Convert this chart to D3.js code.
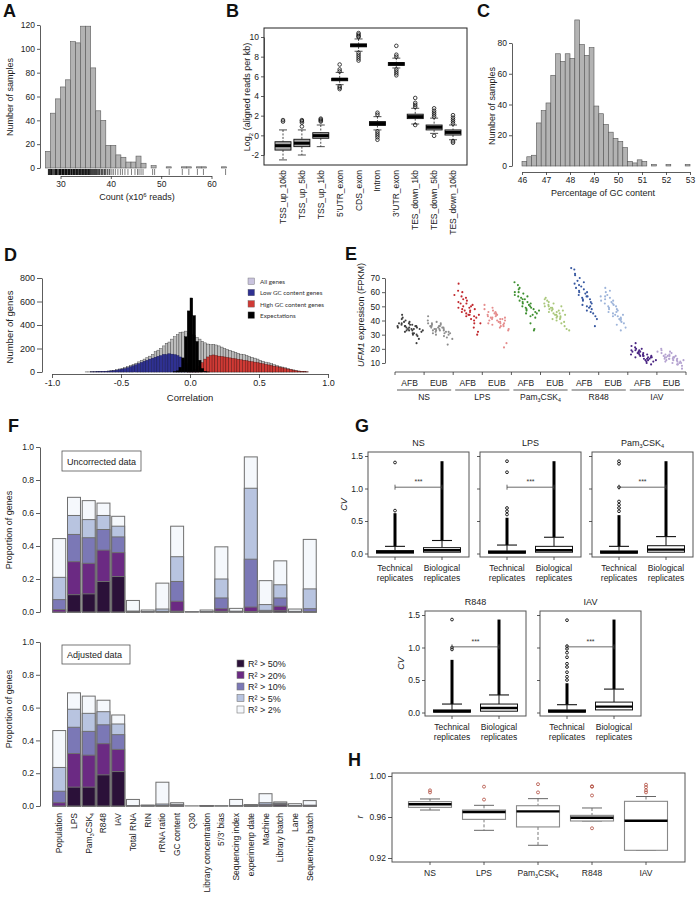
<!DOCTYPE html>
<html>
<head>
<meta charset="utf-8">
<script src="https://cdn.jsdelivr.net/npm/d3@7"></script>
<style>
  body { margin: 0; background: #fff; }
</style>
</head>
<body>
<script>
const FONT = '"Liberation Sans", Arial, Helvetica, sans-serif';

// ---- A: read counts ----
const histAStart = 27;
const histA = [14,46,58,68,74,106,105,119,119,84,48,40,19,19,11,9,5,5,10,4,0,2,0,0,1,0,0,1,1,0,1,1,0,0,0,1];
const rugA = [27.6,27.8,28.0,28.2,28.3,28.5,28.7,28.9,29.0,29.2,29.3,29.5,29.7,29.8,30.0,30.1,30.3,30.4,30.6,30.7,30.9,31.0,31.2,31.3,31.5,31.6,31.8,31.9,32.1,32.2,32.3,32.5,32.6,32.8,32.9,33.1,33.2,33.4,33.5,33.7,33.8,34.0,34.1,34.3,34.4,34.6,34.7,34.9,35.0,35.2,35.3,35.5,35.6,35.8,35.9,36.1,36.3,36.5,36.7,36.9,37.1,37.3,37.6,37.8,38.1,38.4,38.7,39.0,39.4,39.8,40.2,40.5,40.9,41.4,41.9,42.3,42.8,43.4,44.1,44.8,45.3,45.6,46.0,46.4,48.3,48.7,51.6,54.2,55.5,57.2,58.4,62.8];
const ticksAX = [30,40,50,60];
const ticksAY = [0,20,40,60,80,100,120];

// ---- B: log2 reads per kb ----
const bCats = ["TSS_up_10kb","TSS_up_5kb","TSS_up_1kb","5'UTR_exon","CDS_exon","Intron","3'UTR_exon","TES_down_1kb","TES_down_5kb","TES_down_10kb"];
const bLo  = [-2.5,-2.0,-1.15,5.15,8.55,0.55,6.85,1.15,0.2,-0.45];
const bQ1  = [-1.5,-1.15,-0.3,5.55,9.0,1.0,7.1,1.7,0.55,0.03];
const bMed = [-1.05,-0.8,-0.03,5.7,9.15,1.2,7.28,1.9,0.82,0.3];
const bQ3  = [-0.65,-0.4,0.27,5.8,9.3,1.4,7.4,2.15,1.05,0.55];
const bHi  = [0.55,0.55,1.05,6.4,9.8,1.9,7.85,2.75,1.75,1.05];
const bOut = [[1.4,1.55],[0.9,1.3,1.45,1.55],[1.4,1.5,1.6,1.7],[6.5,6.7,7.2,5.0,4.85,4.7],
  [10.0,10.1,10.25,10.4,8.4,8.2,8.0,7.8,7.6],[2.1,2.3,0.4,0.2,0.0,-0.2,-0.45],[8.0,8.2,9.1,6.7,6.5,6.3,6.1],
  [2.9,3.1,3.3,3.8,1.05],[1.9,2.1,2.3,2.5,2.75,-0.05],[1.2,1.4,1.6,1.8,2.05,-0.6,-0.75]];
const ticksBY = [-2,0,2,4,6,8,10];

// ---- C: GC content ----
const histCStart = 46.0;
const histCBin = 0.2;
const histC = [3,6,7,28,36,41,59,73,68,73,70,95,79,72,77,39,34,27,22,18,16,12,3,2,4,3,0,1,0,0,1,0,0,0,1];
const ticksCX = [46,47,48,49,50,51,52,53];
const ticksCY = [0,20,40,60,80];

// ---- D: correlation histograms ----
const dBin = 0.02;
const dAllStart = -0.76;
const dAll = [1,1,2,2,3,4,5,7,9,12,15,20,26,32,38,46,55,64,75,86,98,110,122,135,150,172,186,200,222,245,255,280,300,318,338,340,348,330,320,310,295,280,262,248,238,232,235,230,222,212,200,192,185,175,168,160,152,148,140,132,125,118,110,100,92,84,78,70,62,55,48,42,36,30,24,18,13,9,6,3,1];
const dLowStart = -0.72;
const dLow = [1,1,2,3,4,5,7,9,12,16,20,25,30,37,45,53,62,72,82,92,100,110,118,126,134,140,150,148,155,152,148,140,128,105,70,35,10,3,1];
const dHighStart = -0.02;
const dHigh = [1,3,8,20,45,80,110,128,140,145,140,135,132,128,124,120,116,112,108,104,100,96,92,88,84,80,75,70,65,60,55,50,45,40,35,30,25,20,15,10,7,4,2,1];
const dExpStart = -0.12;
const dExp = [2,10,40,120,300,520,630,480,260,100,30,6,1];
const dLegend = ['All genes','Low GC content genes','High GC content genes','Expectations'];
const dLegendColors = ['#c9c3de','#2f3192','#cf3a35','#000000'];
const ticksDX = [-1,-0.5,0,0.5,1];
const ticksDY = [0,200,400,600,800];

// ---- E: UFM1 expression ----
const eGroups = ['NS','LPS','Pam3CSK4','R848','IAV'];
const eSubs = ['AFB','EUB'];
const eNS_AFB = [38,42,36,44,35,39,37,33,41,36,38,34,40,35,37,32,39,36,34,38,31,35,37,33,36,30,34,29,33,35,31,27,36,32,30,34,24,33];
const eNS_EUB = [36,40,33,38,35,43,34,37,31,39,36,33,38,35,32,37,34,36,30,35,33,38,31,34,29,36,32,35,30,33,28,34,31,23,32,27];
const eLPS_AFB = [66,58,52,61,55,49,57,53,47,60,50,54,46,52,48,44,56,50,45,49,43,51,47,41,48,44,38,46,42,35,44,40,30,43,38,32];
const eLPS_EUB = [48,44,51,42,46,40,47,43,49,38,45,41,44,37,46,42,39,44,40,36,43,38,45,41,35,42,39,37,41,24,38,40,34,36,33,21];
const ePam_AFB = [67,63,58,65,60,56,62,54,59,57,52,60,55,50,57,53,49,55,51,47,53,49,45,52,48,44,50,46,43,48,38,45,34,42,47,33];
const ePam_EUB = [54,50,56,48,52,46,55,49,51,45,53,47,50,44,48,52,43,49,46,41,47,44,50,42,45,40,47,43,38,44,41,36,42,34,39,33];
const eR848_AFB = [76,77,68,72,63,70,66,60,73,64,58,67,61,56,65,59,54,62,57,51,60,55,49,57,52,47,55,50,45,53,48,43,50,36,46,41];
const eR848_EUB = [60,57,63,54,58,52,61,55,50,57,53,48,56,51,46,54,49,44,52,47,43,50,45,41,48,43,39,46,41,37,44,40,35,42,38,33];
const eIAV_AFB = [22,18,20,16,24,19,17,21,15,19,18,14,20,16,18,13,17,15,19,12,16,14,17,11,15,13,16,12,14,10,15,13,11,14,12,9];
const eIAV_EUB = [18,15,20,14,17,13,19,15,16,12,18,14,15,11,17,13,14,16,10,13,15,12,14,9,13,11,14,10,12,8,13,11,9,12,10,6];
const eColors = [['#3d3d3d','#8c8c8c'],['#c1272d','#e58d8d'],['#3d8f2f','#a9c77a'],['#3657a0','#9db4da'],['#4a2583','#b4a2d0']];
const ticksEY = [10,20,30,40,50,60,70];

// ---- F: variance explained ----
const fCats = ['Population','LPS','Pam3CSK4','R848','IAV','Total RNA','RIN','rRNA ratio','GC content','Q30','Library concentration',"5'/3' bias",'Sequencing index','experimenp date','Machine','Library batch','Lane','Sequencing batch'];
const fLegend = ['R² > 50%','R² > 20%','R² > 10%','R² > 5%','R² > 2%'];
const fColors = ['#2b1139','#6b2a83','#7b78b6','#b8c4e0','#f5f8fc'];
const u50 = [0,0.105,0.11,0.185,0.215,0.003,0,0,0.005,0,0,0.005,0,0.003,0,0.008,0,0];
const u20 = [0.015,0.305,0.295,0.375,0.36,0.003,0,0,0.065,0,0,0.02,0,0.03,0.003,0.035,0,0.003];
const u10 = [0.075,0.47,0.45,0.50,0.455,0.004,0.001,0.004,0.185,0,0.001,0.085,0.002,0.32,0.01,0.085,0.002,0.02];
const u5  = [0.21,0.585,0.56,0.585,0.52,0.005,0.003,0.018,0.335,0.001,0.003,0.2,0.005,0.75,0.045,0.165,0.004,0.14];
const u2  = [0.445,0.695,0.675,0.66,0.58,0.07,0.012,0.175,0.52,0.002,0.012,0.395,0.022,0.94,0.19,0.31,0.018,0.44];
const a50 = [0,0.115,0.115,0.19,0.21,0,0,0,0,0,0.002,0,0,0.004,0,0.008,0,0.001];
const a20 = [0.02,0.32,0.31,0.38,0.345,0,0,0,0.002,0,0.002,0,0,0.005,0.002,0.01,0,0.002];
const a10 = [0.09,0.48,0.455,0.495,0.435,0.001,0.001,0.004,0.005,0,0.002,0,0.001,0.006,0.01,0.014,0.001,0.003];
const a5  = [0.235,0.59,0.565,0.575,0.50,0.003,0.003,0.012,0.01,0,0.002,0.001,0.003,0.006,0.02,0.018,0.003,0.005];
const a2  = [0.46,0.69,0.67,0.645,0.555,0.04,0.006,0.145,0.02,0.001,0.002,0.001,0.04,0.007,0.075,0.025,0.014,0.033];
const ticksFY = [0,0.2,0.4,0.6,0.8,1.0];

// ---- G: CV boxplots [lo, q1, med, q3, hi] ----
const gNames = ['NS','LPS','Pam3CSK4','R848','IAV'];
const gTech = [[0,0.005,0.025,0.045,0.11],[0,0.005,0.02,0.04,0.13],[0,0.005,0.02,0.04,0.11],[0,0.005,0.02,0.04,0.13],[0,0.005,0.02,0.04,0.12]];
const gBio  = [[0,0.02,0.05,0.09,0.2],[0,0.02,0.05,0.11,0.25],[0,0.02,0.06,0.12,0.26],[0,0.02,0.07,0.13,0.27],[0,0.04,0.09,0.16,0.36]];
const gTechDenseTop = [0.62,0.55,0.59,0.81,0.45];
const gBioDenseTop = [1.42,1.42,1.42,1.43,1.43];
const gTechOut = [[0.66,1.4],[0.6,0.65,0.7,1.25,1.42],[0.65,0.7,0.75,0.8,1.02,1.38,1.42],[0.97,1.0,1.43],[0.5,0.55,0.62,0.7,0.75,0.85,0.92,0.98,1.02,1.42]];
const gBracket = [1.02,1.02,1.02,1.01,1.01];
const ticksGY = [0,0.5,1.0,1.5];

// ---- H: correlation boxplots [lo, q1, med, q3, hi] ----
const hNames = ['NS','LPS','Pam3CSK4','R848','IAV'];
const hStats = [[0.9668,0.9694,0.9724,0.975,0.9776],[0.947,0.9577,0.9649,0.9668,0.9714],[0.9324,0.9503,0.9655,0.971,0.9779],[0.9561,0.9561,0.9593,0.9616,0.9688],[0.9275,0.9275,0.9564,0.9753,0.98]];
const hOut = [[0.984,0.986],[0.977,0.9896],[0.984,0.992],[0.949,0.981,0.9895,0.99],[0.984,0.986,0.989,0.9915]];
const ticksHY = [0.92,0.96,1.00];


const svg = d3.select('body').append('svg')
  .attr('width', 696).attr('height', 901)
  .attr('font-family', FONT);
svg.append('rect').attr('width', 696).attr('height', 901).attr('fill', '#fff');

function styleAxis(g, fs) {
  g.attr('font-family', FONT).attr('font-size', fs || 8.5);
  g.select('.domain').attr('stroke', '#333').attr('stroke-width', 0.8);
  g.selectAll('.tick line').attr('stroke', '#333').attr('stroke-width', 0.8);
  g.selectAll('.tick text').attr('fill', '#222');
  return g;
}
function leftAxis(scale, x, ticks, fmt, size, fs) {
  const g = svg.append('g').attr('transform', `translate(${x},0)`)
    .call(d3.axisLeft(scale).tickValues(ticks).tickFormat(fmt || (d => d))
      .tickSize(size || 3).tickSizeOuter(0).tickPadding(2));
  return styleAxis(g, fs);
}
function bottomAxis(scale, y, ticks, fmt, size, fs) {
  const g = svg.append('g').attr('transform', `translate(0,${y})`)
    .call(d3.axisBottom(scale).tickValues(ticks).tickFormat(fmt || (d => d))
      .tickSize(size || 3).tickSizeOuter(0).tickPadding(2));
  return styleAxis(g, fs);
}
function panelLabel(t, x, y) {
  svg.append('text').attr('x', x).attr('y', y).attr('font-size', 18)
    .attr('font-weight', 'bold').attr('fill', '#111').text(t);
}
function vText(x, y, txt, fs) {
  return svg.append('text').attr('transform', `translate(${x},${y}) rotate(-90)`)
    .attr('text-anchor', 'middle').attr('font-size', fs || 9).attr('fill', '#222').text(txt);
}
function pamText(sel, fs) {
  sel.append('tspan').text('Pam');
  sel.append('tspan').attr('font-size', fs * 0.62).attr('dy', fs * 0.25).text('3');
  sel.append('tspan').attr('dy', -fs * 0.25).text('CSK');
  sel.append('tspan').attr('font-size', fs * 0.62).attr('dy', fs * 0.25).text('4');
}

// ================= A =================
panelLabel('A', 3, 17);
const xA = d3.scaleLinear().domain([30, 60]).range([60.5, 211.5]);
const yA = d3.scaleLinear().domain([0, 120]).range([168, 25]);
svg.append('g').selectAll('rect').data(histA).join('rect')
  .attr('x', (d, i) => xA(histAStart + i))
  .attr('y', d => yA(d))
  .attr('width', (d, i) => xA(histAStart + i + 1) - xA(histAStart + i))
  .attr('height', d => yA(0) - yA(d))
  .attr('fill', '#b3b3b3').attr('stroke', '#5a5a5a').attr('stroke-width', 0.6);
svg.append('g').selectAll('line').data(rugA).join('line')
  .attr('x1', d => xA(d)).attr('x2', d => xA(d))
  .attr('y1', 169).attr('y2', 175)
  .attr('stroke', '#000').attr('stroke-opacity', d => d < 40 ? 0.9 : 0.5).attr('stroke-width', 1);
bottomAxis(xA, 176, ticksAX);
leftAxis(yA, 40, ticksAY);
vText(13, 97, 'Number of samples');
{
  const t = svg.append('text').attr('x', 137).attr('y', 200).attr('text-anchor', 'middle')
    .attr('font-size', 9).attr('fill', '#222');
  t.append('tspan').text('Count (x10');
  t.append('tspan').attr('font-size', 6).attr('dy', -3.5).text('6');
  t.append('tspan').attr('dy', 3.5).text(' reads)');
}

// ================= B =================
panelLabel('B', 226, 17);
const xB = d3.scalePoint().domain(bCats).range([283, 453]);
const yB = d3.scaleLinear().domain([-2, 10]).range([155, 37]);
svg.append('rect').attr('x', 264).attr('y', 28).attr('width', 203).attr('height', 137)
  .attr('fill', 'none').attr('stroke', '#222').attr('stroke-width', 1);
const bw = 16;
bCats.forEach((c, i) => {
  const cx = xB(c);
  const g = svg.append('g');
  g.append('line').attr('x1', cx).attr('x2', cx).attr('y1', yB(bHi[i])).attr('y2', yB(bQ3[i]))
    .attr('stroke', '#222').attr('stroke-dasharray', '2,1.5').attr('stroke-width', 0.8);
  g.append('line').attr('x1', cx).attr('x2', cx).attr('y1', yB(bQ1[i])).attr('y2', yB(bLo[i]))
    .attr('stroke', '#222').attr('stroke-dasharray', '2,1.5').attr('stroke-width', 0.8);
  [bHi[i], bLo[i]].forEach(v => g.append('line')
    .attr('x1', cx - bw / 4).attr('x2', cx + bw / 4).attr('y1', yB(v)).attr('y2', yB(v))
    .attr('stroke', '#222').attr('stroke-width', 0.8));
  g.append('rect').attr('x', cx - bw / 2).attr('y', yB(bQ3[i])).attr('width', bw)
    .attr('height', yB(bQ1[i]) - yB(bQ3[i]))
    .attr('fill', '#a9a9a9').attr('stroke', '#111').attr('stroke-width', 0.9);
  g.append('line').attr('x1', cx - bw / 2).attr('x2', cx + bw / 2)
    .attr('y1', yB(bMed[i])).attr('y2', yB(bMed[i])).attr('stroke', '#000').attr('stroke-width', 3);
  g.selectAll('circle').data(bOut[i]).join('circle')
    .attr('cx', cx).attr('cy', d => yB(d)).attr('r', 1.8)
    .attr('fill', 'none').attr('stroke', '#111').attr('stroke-width', 0.8);
  svg.append('text').attr('transform', `translate(${cx + 3},170) rotate(-90)`)
    .attr('text-anchor', 'end').attr('font-size', 8.5).attr('fill', '#222').text(c);
});
leftAxis(yB, 264, ticksBY);
{
  const t = svg.append('text').attr('transform', 'translate(250,97) rotate(-90)')
    .attr('text-anchor', 'middle').attr('font-size', 9).attr('fill', '#222');
  t.append('tspan').text('Log');
  t.append('tspan').attr('font-size', 6).attr('dy', 2.5).text('2');
  t.append('tspan').attr('dy', -2.5).text(' (aligned reads per kb)');
}

// ================= C =================
panelLabel('C', 477, 17);
const xC = d3.scaleLinear().domain([46, 53]).range([522, 690]);
const yC = d3.scaleLinear().domain([0, 80]).range([166, 43]);
svg.append('g').selectAll('rect').data(histC).join('rect')
  .attr('x', (d, i) => xC(histCStart + i * histCBin))
  .attr('y', d => yC(d))
  .attr('width', xC(histCStart + histCBin) - xC(histCStart))
  .attr('height', d => yC(0) - yC(d))
  .attr('fill', '#b3b3b3').attr('stroke', '#555').attr('stroke-width', 0.6);
bottomAxis(xC, 172, ticksCX);
leftAxis(yC, 512, ticksCY);
vText(495, 106, 'Number of samples');
svg.append('text').attr('x', 603).attr('y', 196).attr('text-anchor', 'middle')
  .attr('font-size', 9).attr('fill', '#222').text('Percentage of GC content');

// ================= D =================
panelLabel('D', 4, 261);
const xD = d3.scaleLinear().domain([-1, 1]).range([52, 328]);
const yD = d3.scaleLinear().domain([0, 800]).range([372, 278]);
function dBars(vals, start, fill, stroke) {
  svg.append('g').selectAll('rect').data(vals).join('rect')
    .attr('x', (d, i) => xD(start + i * dBin))
    .attr('y', d => yD(d))
    .attr('width', xD(dBin) - xD(0))
    .attr('height', d => yD(0) - yD(d))
    .attr('fill', fill).attr('stroke', stroke).attr('stroke-width', 0.4);
}
dBars(dAll, dAllStart, '#bdbdbd', '#3a3a3a');
dBars(dLow, dLowStart, '#2f3192', '#1c1c55');
dBars(dHigh, dHighStart, '#cf3a35', '#5a1512');
dBars(dExp, dExpStart, '#000', '#000');
bottomAxis(xD, 374, ticksDX, d => d.toFixed(1), 4, 9);
leftAxis(yD, 42, ticksDY, d => d, 5, 9);
vText(13, 327, 'Number of genes', 9.5);
svg.append('text').attr('x', 190).attr('y', 401).attr('text-anchor', 'middle')
  .attr('font-size', 9.5).attr('fill', '#222').text('Correlation');
dLegend.forEach((l, i) => {
  svg.append('rect').attr('x', 248).attr('y', 278 + i * 11.3).attr('width', 6.5).attr('height', 6.5)
    .attr('fill', dLegendColors[i]).attr('stroke', '#666').attr('stroke-width', 0.4);
  svg.append('text').attr('x', 260).attr('y', 284 + i * 11.3).attr('font-size', 6.3)
    .attr('font-family', 'Lato, "Open Sans", sans-serif').attr('fill', '#333').text(l);
});

// ================= E =================
panelLabel('E', 345, 260);
const yE = d3.scaleLinear().domain([10, 70]).range([363, 278]);
const xEg = d3.scaleBand().domain(eGroups).range([395, 686]);
const xEs = d3.scaleBand().domain(eSubs).range([0, xEg.bandwidth()]);
const eSeries = [[eNS_AFB, eNS_EUB], [eLPS_AFB, eLPS_EUB], [ePam_AFB, ePam_EUB], [eR848_AFB, eR848_EUB], [eIAV_AFB, eIAV_EUB]];
// small horizontal spread so the strips read as clouds
const eSpread = [0.0, 3.1, -2.6, 1.4, -3.4, 2.2, -0.9, 3.6, -1.8, 0.7, -3.0, 2.7, -0.3];
eGroups.forEach((grp, gi) => {
  eSubs.forEach((s, si) => {
    const vals = eSeries[gi][si];
    const x0 = xEg(grp) + xEs(s) + 4;
    const w = xEs.bandwidth() - 8;
    svg.append('g').selectAll('circle').data(vals).join('circle')
      .attr('cx', (d, i) => x0 + w * i / (vals.length - 1) + eSpread[(i + gi * 3 + si * 5) % eSpread.length])
      .attr('cy', d => yE(d)).attr('r', 1.05)
      .attr('fill', eColors[gi][si]);
  });
});
leftAxis(yE, 385, ticksEY);
{
  const t = svg.append('text').attr('transform', 'translate(364,315) rotate(-90)')
    .attr('text-anchor', 'middle').attr('font-size', 9).attr('fill', '#222');
  t.append('tspan').attr('font-style', 'italic').text('UFM1');
  t.append('tspan').text(' expresison (FPKM)');
}
{
  const g = svg.append('g');
  g.append('line').attr('x1', 395).attr('x2', 686).attr('y1', 372).attr('y2', 372)
    .attr('stroke', '#333').attr('stroke-width', 0.8);
  const bounds = [];
  eGroups.forEach(grp => eSubs.forEach(s => bounds.push(xEg(grp) + xEs(s))));
  bounds.push(686);
  g.selectAll('line.tk').data(bounds).join('line').attr('class', 'tk')
    .attr('x1', d => d).attr('x2', d => d).attr('y1', 372).attr('y2', 375)
    .attr('stroke', '#333').attr('stroke-width', 0.8);
  eGroups.forEach(grp => {
    eSubs.forEach(s => {
      g.append('text').attr('x', xEg(grp) + xEs(s) + xEs.bandwidth() / 2).attr('y', 386)
        .attr('text-anchor', 'middle').attr('font-size', 8.5).attr('fill', '#222').text(s);
    });
    g.append('line').attr('x1', xEg(grp) + 2).attr('x2', xEg(grp) + xEg.bandwidth() - 2)
      .attr('y1', 390).attr('y2', 390).attr('stroke', '#333').attr('stroke-width', 0.8);
    const t = g.append('text').attr('x', xEg(grp) + xEg.bandwidth() / 2).attr('y', 400)
      .attr('text-anchor', 'middle').attr('font-size', 8.5).attr('fill', '#222');
    if (grp === 'Pam3CSK4') pamText(t, 8.5); else t.text(grp);
  });
}

// ================= F =================
panelLabel('F', 8, 432);
const xF = d3.scaleBand().domain(fCats).range([51, 318]).padding(0.12);
const yF1 = d3.scaleLinear().domain([0, 1]).range([612, 447]);
const yF2 = d3.scaleLinear().domain([0, 1]).range([806, 642]);
function fStack(yS, layers) {
  // layers ordered R2>2% (outer) to R2>50% (inner)
  layers.forEach((vals, li) => {
    svg.append('g').selectAll('rect').data(vals).join('rect')
      .attr('x', (d, i) => xF(fCats[i]))
      .attr('width', xF.bandwidth())
      .attr('y', d => yS(d))
      .attr('height', d => yS(0) - yS(d))
      .attr('fill', fColors[4 - li]).attr('stroke', '#6f6f6f').attr('stroke-width', 1);
  });
}
fStack(yF1, [u2, u5, u10, u20, u50]);
fStack(yF2, [a2, a5, a10, a20, a50]);
leftAxis(yF1, 40, ticksFY, d => d.toFixed(1), 4);
leftAxis(yF2, 40, ticksFY, d => d.toFixed(1), 4);
vText(12, 530, 'Proportion of genes');
vText(12, 709, 'Proportion of genes');
svg.append('rect').attr('x', 62).attr('y', 451).attr('width', 79).attr('height', 20)
  .attr('fill', '#fff').attr('stroke', '#555').attr('stroke-width', 0.8);
svg.append('text').attr('x', 67).attr('y', 465).attr('font-size', 9).attr('fill', '#222').text('Uncorrected data');
svg.append('rect').attr('x', 62).attr('y', 645).attr('width', 68).attr('height', 19)
  .attr('fill', '#fff').attr('stroke', '#555').attr('stroke-width', 0.8);
svg.append('text').attr('x', 67).attr('y', 658).attr('font-size', 9).attr('fill', '#222').text('Adjusted data');
fCats.forEach(c => {
  const t = svg.append('text')
    .attr('transform', `translate(${xF(c) + xF.bandwidth() / 2 + 3},813) rotate(-90)`)
    .attr('text-anchor', 'end').attr('font-size', 8.5).attr('fill', '#222');
  if (c === 'Pam3CSK4') pamText(t, 8.5); else t.text(c);
});
fLegend.forEach((l, i) => {
  svg.append('rect').attr('x', 237).attr('y', 660 + i * 11.5).attr('width', 7).attr('height', 7)
    .attr('fill', fColors[i]).attr('stroke', '#777').attr('stroke-width', 0.6);
  svg.append('text').attr('x', 248).attr('y', 667 + i * 11.5).attr('font-size', 9)
    .attr('fill', '#222').text(l);
});

// ================= G =================
panelLabel('G', 355, 432);
const gLeft = [368, 480, 592, 425, 540];
const gTop = [452, 452, 452, 611, 611];
const gW = 101, gH = 105, gBoxW = 37;
gNames.forEach((nm, i) => {
  const L = gLeft[i], T = gTop[i], B = T + gH;
  const yG = d3.scaleLinear().domain([0, 1.5]).range([B - 3.5, T + 4]);
  const xT = L + 27, xBi = L + 74;
  const g = svg.append('g');
  g.append('rect').attr('x', L).attr('y', T).attr('width', gW).attr('height', gH)
    .attr('fill', 'none').attr('stroke', '#555').attr('stroke-width', 1);
  const ttl = g.append('text').attr('x', L + gW / 2).attr('y', T - 6).attr('text-anchor', 'middle')
    .attr('font-size', 9).attr('fill', '#222');
  if (nm === 'Pam3CSK4') pamText(ttl, 9); else ttl.text(nm);
  [[xT, gTech[i], gTechDenseTop[i], gTechOut[i]], [xBi, gBio[i], gBioDenseTop[i], []]].forEach(([cx, st, dense, outs]) => {
    g.append('line').attr('x1', cx).attr('x2', cx).attr('y1', yG(st[4])).attr('y2', yG(dense))
      .attr('stroke', '#000').attr('stroke-width', 3);
    outs.forEach(v => g.append('circle').attr('cx', cx).attr('cy', yG(v)).attr('r', 1.4)
      .attr('fill', 'none').attr('stroke', '#111').attr('stroke-width', 0.9));
    g.append('line').attr('x1', cx).attr('x2', cx).attr('y1', yG(st[3])).attr('y2', yG(st[4]))
      .attr('stroke', '#111').attr('stroke-width', 1);
    g.append('line').attr('x1', cx - 10).attr('x2', cx + 10).attr('y1', yG(st[4])).attr('y2', yG(st[4]))
      .attr('stroke', '#111').attr('stroke-width', 1.1);
    g.append('rect').attr('x', cx - gBoxW / 2).attr('y', yG(st[3])).attr('width', gBoxW)
      .attr('height', yG(st[1]) - yG(st[3]))
      .attr('fill', '#fff').attr('stroke', '#111').attr('stroke-width', 1);
    g.append('line').attr('x1', cx - gBoxW / 2).attr('x2', cx + gBoxW / 2)
      .attr('y1', yG(st[2])).attr('y2', yG(st[2])).attr('stroke', '#000').attr('stroke-width', 2.4);
    g.append('line').attr('x1', cx).attr('x2', cx).attr('y1', B).attr('y2', B + 3)
      .attr('stroke', '#333').attr('stroke-width', 0.8);
  });
  const yb = yG(gBracket[i]);
  g.append('line').attr('x1', xT).attr('x2', xBi).attr('y1', yb).attr('y2', yb).attr('stroke', '#444').attr('stroke-width', 0.8);
  [xT, xBi].forEach(x => g.append('line').attr('x1', x).attr('x2', x).attr('y1', yb - 2.5).attr('y2', yb + 2.5)
    .attr('stroke', '#444').attr('stroke-width', 0.8));
  g.append('text').attr('x', (xT + xBi) / 2).attr('y', yb - 3).attr('text-anchor', 'middle')
    .attr('font-size', 7).attr('fill', '#333').text('***');
  [[xT, 'Technical'], [xBi, 'Biological']].forEach(([x, w]) => {
    g.append('text').attr('x', x).attr('y', B + 14).attr('text-anchor', 'middle').attr('font-size', 8.5).attr('fill', '#222').text(w);
    g.append('text').attr('x', x).attr('y', B + 24).attr('text-anchor', 'middle').attr('font-size', 8.5).attr('fill', '#222').text('replicates');
  });
  const ax = leftAxis(yG, L, ticksGY, d => d.toFixed(1), 3);
  ax.select('.domain').remove();
  if (i === 0 || i === 3) {
    svg.append('text').attr('transform', `translate(${L - 21},${(T + B) / 2}) rotate(-90)`)
      .attr('text-anchor', 'middle').attr('font-size', 9).attr('font-style', 'italic').attr('fill', '#222').text('CV');
  } else {
    ax.selectAll('.tick text').remove();
  }
});

// ================= H =================
panelLabel('H', 348, 766);
const xH = d3.scalePoint().domain(hNames).range([430, 646]);
const yH = d3.scaleLinear().domain([0.92, 1.0]).range([858, 776]);
svg.append('rect').attr('x', 392).attr('y', 773).attr('width', 293).attr('height', 89)
  .attr('fill', 'none').attr('stroke', '#555').attr('stroke-width', 1);
const hBoxW = 43;
hNames.forEach((nm, i) => {
  const cx = xH(nm), st = hStats[i];
  const g = svg.append('g');
  g.append('line').attr('x1', cx).attr('x2', cx).attr('y1', yH(st[4])).attr('y2', yH(st[3]))
    .attr('stroke', '#555').attr('stroke-dasharray', '3,2').attr('stroke-width', 0.8);
  g.append('line').attr('x1', cx).attr('x2', cx).attr('y1', yH(st[1])).attr('y2', yH(st[0]))
    .attr('stroke', '#555').attr('stroke-dasharray', '3,2').attr('stroke-width', 0.8);
  [st[4], st[0]].forEach(v => g.append('line').attr('x1', cx - 10).attr('x2', cx + 10)
    .attr('y1', yH(v)).attr('y2', yH(v)).attr('stroke', '#555').attr('stroke-width', 0.9));
  g.append('rect').attr('x', cx - hBoxW / 2).attr('y', yH(st[3])).attr('width', hBoxW)
    .attr('height', yH(st[1]) - yH(st[3]))
    .attr('fill', '#fff').attr('stroke', '#888').attr('stroke-width', 1.1);
  g.append('line').attr('x1', cx - hBoxW / 2).attr('x2', cx + hBoxW / 2)
    .attr('y1', yH(st[2])).attr('y2', yH(st[2])).attr('stroke', '#000').attr('stroke-width', 2.4);
  g.selectAll('circle').data(hOut[i]).join('circle')
    .attr('cx', cx).attr('cy', d => yH(d)).attr('r', 1.5)
    .attr('fill', 'none').attr('stroke', '#b04a3c').attr('stroke-width', 0.8);
  g.append('line').attr('x1', cx).attr('x2', cx).attr('y1', 862).attr('y2', 865)
    .attr('stroke', '#333').attr('stroke-width', 0.8);
  const t = g.append('text').attr('x', cx).attr('y', 876).attr('text-anchor', 'middle')
    .attr('font-size', 8.5).attr('fill', '#222');
  if (nm === 'Pam3CSK4') pamText(t, 8.5); else t.text(nm);
});
leftAxis(yH, 392, ticksHY, d => d.toFixed(2), 4).select('.domain').remove();
svg.append('text').attr('transform', 'translate(363,817) rotate(-90)').attr('text-anchor', 'middle')
  .attr('font-size', 9.5).attr('font-style', 'italic').attr('fill', '#222').text('r');
</script>
</body>
</html>
